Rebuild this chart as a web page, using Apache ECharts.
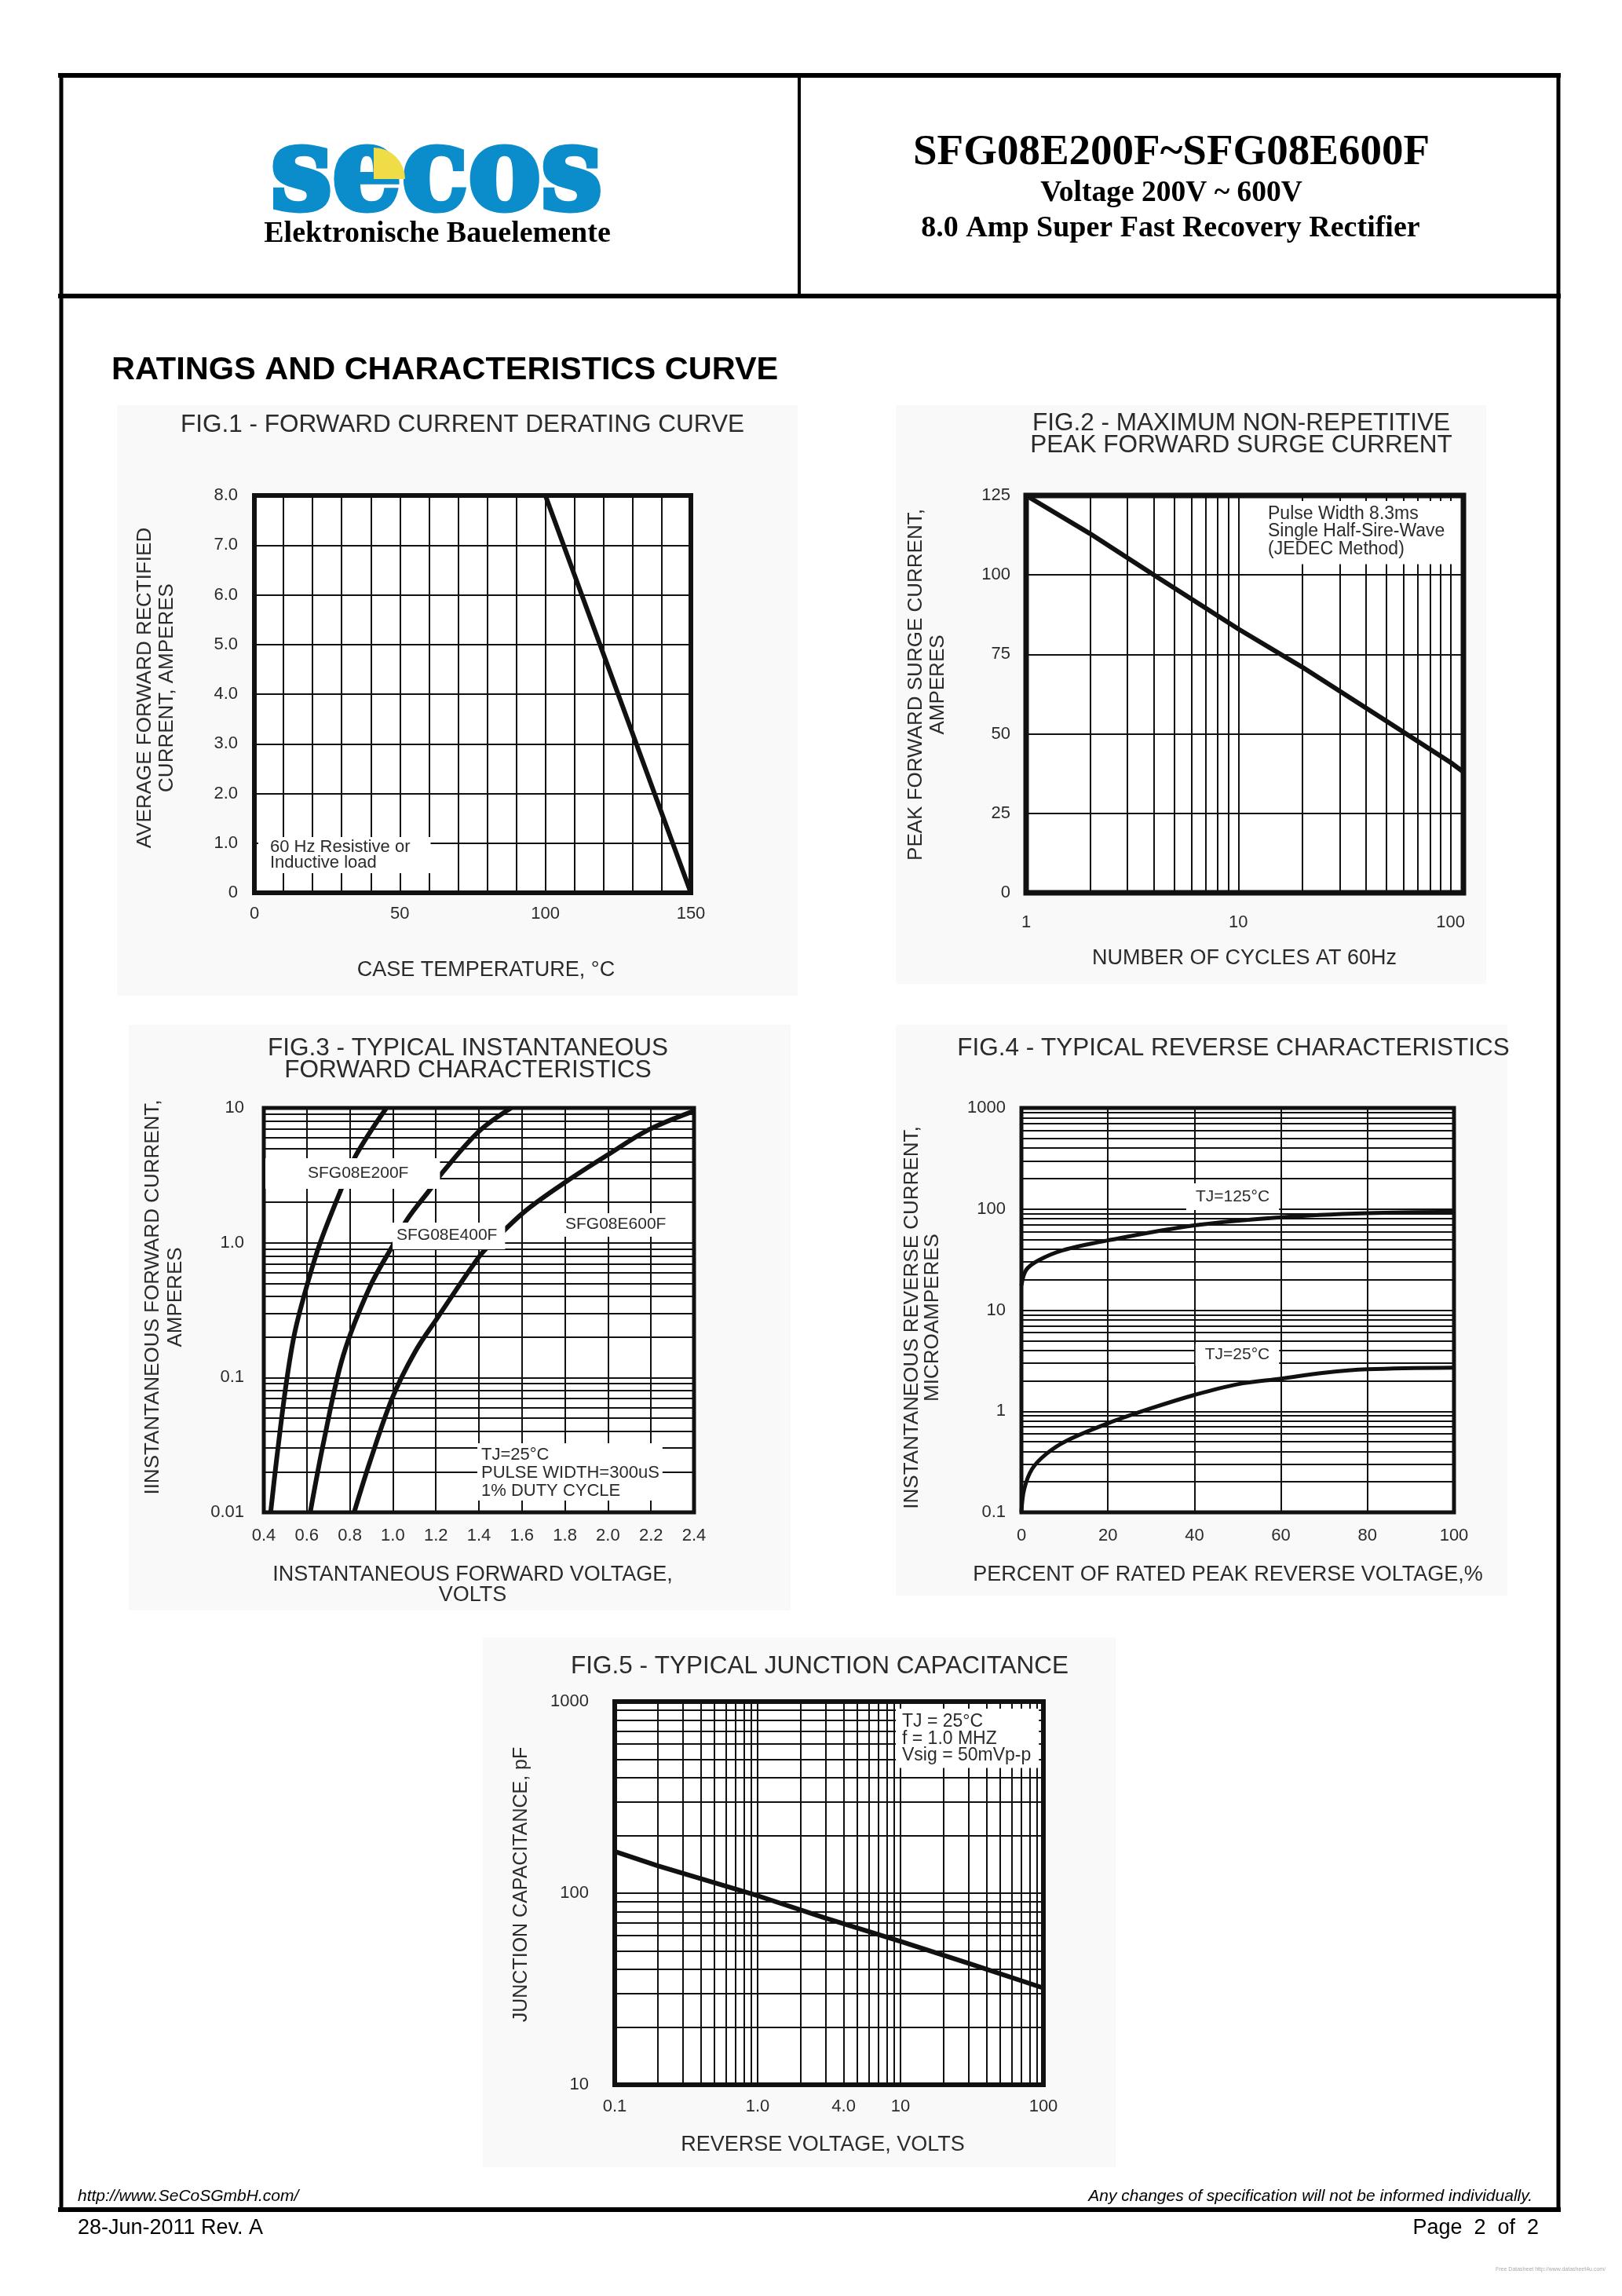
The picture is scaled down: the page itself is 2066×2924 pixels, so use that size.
<!DOCTYPE html>
<html>
<head>
<meta charset="utf-8">
<title>SFG08E200F~SFG08E600F</title>
<script src="https://cdn.jsdelivr.net/npm/echarts@6/dist/echarts.min.js"></script>
<style>
  html, body { margin: 0; padding: 0; background: #fff; }
  #page { width: 2066px; height: 2924px; }
</style>
</head>
<body>
<div id="page"></div>
<script>
// FIG.1 - forward current derating
var fig1Temp = [0, 100, 150];
var fig1Amps = [8, 8, 0];
var fig1XLabels = [0, 50, 100, 150];

// FIG.2 - peak forward surge current
var fig2Cycles = [1, 2, 4, 10, 20, 50, 100, 115];
var fig2Amps = [125, 113, 100, 83, 71, 54, 41, 38];
var fig2XLabels = [1, 10, 100];

// FIG.3 - forward characteristics (volts, amps)
var fig3V200 = [0.432, 0.46, 0.505, 0.545, 0.608, 0.664, 0.76, 0.83, 0.97];
var fig3I200 = [0.01, 0.025, 0.092, 0.22, 0.53, 1.02, 2.5, 4.5, 10];
var fig3V400 = [0.616, 0.681, 0.769, 0.893, 1.007, 1.068, 1.174, 1.227, 1.40, 1.55];
var fig3I400 = [0.01, 0.035, 0.145, 0.47, 1.0, 1.5, 2.5, 3.27, 6.7, 10];
var fig3V600 = [0.82, 0.893, 0.998, 1.103, 1.209, 1.40, 1.46, 1.614, 1.81, 2.0, 2.19, 2.4];
var fig3I600 = [0.01, 0.0236, 0.071, 0.155, 0.28, 0.785, 1.0, 1.71, 2.87, 4.5, 6.9, 9.5];
var fig3XLabels = [0.4, 0.6, 0.8, 1.0, 1.2, 1.4, 1.6, 1.8, 2.0, 2.2, 2.4];
var fig3YLabels = [0.01, 0.1, 1, 10];
var fig3YText = ['0.01', '0.1', '1.0', '10'];

// FIG.4 - reverse characteristics (percent, microamps)
var fig4Pct125 = [0, 1.1, 3.9, 9.5, 20, 40, 60, 80, 100];
var fig4Ua125 = [17.5, 25, 31, 39, 49, 69, 83, 91, 94];
var fig4Pct25 = [0, 0.65, 2.5, 5.8, 10.4, 20, 30, 40, 50, 60, 70, 80, 100];
var fig4Ua25 = [0.1, 0.17, 0.27, 0.38, 0.51, 0.76, 1.07, 1.45, 1.85, 2.1, 2.4, 2.6, 2.7];
var fig4YLabels = [0.1, 1, 10, 100, 1000];
var fig4YText = ['0.1', '1', '10', '100', '1000'];

// FIG.5 - junction capacitance (volts, pF)
var fig5Volts = [0.1, 0.2, 1, 3, 10, 30, 100];
var fig5Pf = [165, 139, 97, 74, 56, 43, 32];
var fig5XLabels = [0.1, 1, 4, 10, 100];
var fig5XText = ['0.1', '1.0', '4.0', '10', '100'];
var fig5YLabels = [10, 100, 1000];
var fig5YText = ['10', '100', '1000'];

var SANS = '"Liberation Sans", Arial, sans-serif';
var SERIF = '"Liberation Serif", "Times New Roman", serif';
var INK = '#111';
var TXT = '#2b2b2b';
var LOGO = '#0b8dcb';

// 1..9 x each decade, for the log grids
function decadeLines(lo, hi) {
  var out = [];
  for (var d = lo; d < hi; d *= 10) {
    for (var k = 1; k < 10; k++) out.push(+(k * d).toPrecision(3));
  }
  out.push(hi);
  return out;
}

function pick(values, texts) {
  return function (v) {
    for (var i = 0; i < values.length; i++) {
      if (Math.abs(v - values[i]) <= values[i] * 1e-6 + 1e-9) return texts ? texts[i] : String(values[i]);
    }
    return '';
  };
}

function labelStyle(margin, extra) {
  var s = {color: TXT, fontSize: 22, fontFamily: SANS, margin: margin};
  for (var k in extra) s[k] = extra[k];
  return s;
}

function valAxis(idx, min, max, interval, margin, labels, fmt) {
  var lab = labelStyle(margin, {formatter: fmt});
  if (labels) lab.customValues = labels;
  return {
    type: 'value', gridIndex: idx, min: min, max: max, interval: interval,
    axisLine: {show: false}, axisTick: {show: false},
    axisLabel: lab,
    splitLine: {show: true, lineStyle: {color: INK, width: 2}}
  };
}

function logAxis(idx, min, max, lines, margin, labels, fmt) {
  return {
    type: 'log', logBase: 10, gridIndex: idx, min: min, max: max,
    axisLine: {show: false},
    axisTick: {show: false, customValues: lines},
    axisLabel: labelStyle(margin, {customValues: labels, formatter: fmt}),
    splitLine: {show: true, lineStyle: {color: INK, width: 2}}
  };
}

function curve(idx, xs, ys, width, smooth) {
  return {
    type: 'line', xAxisIndex: idx, yAxisIndex: idx,
    data: xs.map(function (x, i) { return [x, ys[i]]; }),
    symbol: 'none', smooth: smooth || false, silent: true, z: 5,
    lineStyle: {color: INK, width: width}
  };
}

function txt(x, y, text, size, opts) {
  var el = {
    type: 'text', x: x, y: y, z: 60,
    style: {text: text, fontSize: size, fontFamily: SANS, fill: TXT, textAlign: 'center', textVerticalAlign: 'middle'}
  };
  for (var k in (opts || {})) {
    if (k === 'rotation' || k === 'z' || k === 'scaleX') el[k] = opts[k];
    else el.style[k] = opts[k];
  }
  return el;
}

function note(x, y, text, size, lh, pad, align) {
  return txt(x, y, text, size, {
    textAlign: align || 'left', textVerticalAlign: 'top', lineHeight: lh,
    backgroundColor: '#fff', padding: pad, z: 80
  });
}

function hline(x1, x2, y, w) {
  return {type: 'line', z: 70, shape: {x1: x1, y1: y, x2: x2, y2: y}, style: {stroke: '#000', lineWidth: w}};
}
function vline(x, y1, y2, w) {
  return {type: 'line', z: 70, shape: {x1: x, y1: y1, x2: x, y2: y2}, style: {stroke: '#000', lineWidth: w}};
}
function zone(x, y, w, h) {
  return {type: 'rect', z: -10, shape: {x: x, y: y, width: w, height: h}, style: {fill: '#f9f9f9'}};
}

var chart = echarts.init(document.getElementById('page'), null, {width: 2066, height: 2924});

var gridBase = {show: true, borderColor: INK, backgroundColor: '#fff', containLabel: false};
function grid(l, t, w, h, bw) {
  return Object.assign({}, gridBase, {left: l, top: t, width: w, height: h, borderWidth: bw});
}

var rot = Math.PI / 2;

chart.setOption({
  backgroundColor: '#fff',
  animation: false,
  grid: [
    grid(324, 631, 556, 506, 6),
    grid(1307, 631, 557, 506, 7),
    grid(336, 1411, 548, 515, 5),
    grid(1301, 1411, 551, 515, 5),
    grid(783, 2167, 546, 488, 6)
  ],
  xAxis: [
    valAxis(0, 0, 150, 10, 16, fig1XLabels, function (v) { return String(v); }),
    logAxis(1, 1, 115, decadeLines(1, 100), 27, fig2XLabels, pick(fig2XLabels)),
    valAxis(2, 0.4, 2.4, 0.2, 19, fig3XLabels, function (v) { return v.toFixed(1); }),
    valAxis(3, 0, 100, 20, 19, null, function (v) { return String(v); }),
    logAxis(4, 0.1, 100, decadeLines(0.1, 100), 17, fig5XLabels, pick(fig5XLabels, fig5XText))
  ],
  yAxis: [
    valAxis(0, 0, 8, 1, 21, null, function (v) { return v === 0 ? '0' : v.toFixed(1); }),
    valAxis(1, 0, 125, 25, 20, null, function (v) { return String(v); }),
    logAxis(2, 0.01, 10, decadeLines(0.01, 10), 25, fig3YLabels, pick(fig3YLabels, fig3YText)),
    logAxis(3, 0.1, 1000, decadeLines(0.1, 1000), 20, fig4YLabels, pick(fig4YLabels, fig4YText)),
    logAxis(4, 10, 1000, decadeLines(10, 1000), 33, fig5YLabels, pick(fig5YLabels, fig5YText))
  ],
  series: [
    curve(0, fig1Temp, fig1Amps, 6),
    curve(1, fig2Cycles, fig2Amps, 6),
    curve(2, fig3V200, fig3I200, 6, 0.35),
    curve(2, fig3V400, fig3I400, 6, 0.35),
    curve(2, fig3V600, fig3I600, 6, 0.35),
    curve(3, fig4Pct125, fig4Ua125, 5, 0.35),
    curve(3, fig4Pct25, fig4Ua25, 5, 0.35),
    curve(4, fig5Volts, fig5Pf, 6)
  ],
  graphic: {elements: [
    // faint scan background behind each figure
    zone(149, 516, 867, 752),
    zone(1141, 516, 752, 737),
    zone(164, 1305, 843, 746),
    zone(1141, 1305, 779, 727),
    zone(615, 2085, 806, 675),

    // page frame
    hline(74, 1988, 96, 6),
    hline(74, 1988, 377, 6),
    hline(74, 1988, 2814, 6),
    vline(78, 93, 2817, 5),
    vline(1985, 93, 2817, 5),
    vline(1018, 96, 377, 4),

    // header
    txt(556, 228, 'secos', 148, {fontFamily: '"DejaVu Serif"', fontWeight: 'bold', fill: LOGO,
      stroke: LOGO, lineWidth: 7, scaleX: 0.94, z: 20}),
    {type: 'sector', z: 21, shape: {cx: 476, cy: 228, r: 40, startAngle: -Math.PI / 2, endAngle: 0}, style: {fill: '#efdc46'}},
    txt(557, 298, 'Elektronische Bauelemente', 38, {fontFamily: SERIF, fontWeight: 'bold', fill: '#000'}),
    txt(1492, 195, 'SFG08E200F~SFG08E600F', 55, {fontFamily: SERIF, fontWeight: 'bold', fill: '#000'}),
    txt(1492, 246, 'Voltage 200V ~ 600V', 37.5, {fontFamily: SERIF, fontWeight: 'bold', fill: '#000'}),
    txt(1491, 291, '8.0 Amp Super Fast Recovery Rectifier', 38, {fontFamily: SERIF, fontWeight: 'bold', fill: '#000'}),
    txt(142, 472, 'RATINGS AND CHARACTERISTICS CURVE', 41.5, {textAlign: 'left', fontWeight: 'bold', fill: '#000'}),

    // FIG.1
    txt(589, 541, 'FIG.1 - FORWARD CURRENT DERATING CURVE', 31.5),
    txt(199, 876, 'AVERAGE FORWARD RECTIFIED\nCURRENT, AMPERES', 26, {rotation: rot, lineHeight: 28}),
    txt(619, 1236, 'CASE TEMPERATURE, °C', 27),
    note(329, 1066, '60 Hz Resistive or\nInductive load', 22, 20, [3, 26, 3, 15]),

    // FIG.2
    txt(1581, 553, 'FIG.2 - MAXIMUM NON-REPETITIVE\nPEAK FORWARD SURGE CURRENT', 31.5, {lineHeight: 28}),
    txt(1181, 872, 'PEAK FORWARD SURGE CURRENT,\nAMPERES', 26, {rotation: rot, lineHeight: 28}),
    txt(1585, 1221, 'NUMBER OF CYCLES AT 60Hz', 27),
    note(1611, 638, 'Pulse Width 8.3ms\nSingle Half-Sire-Wave\n(JEDEC Method)', 23, 22.5, [5, 12, 8, 4]),

    // FIG.3
    txt(596, 1349, 'FIG.3 - TYPICAL INSTANTANEOUS\nFORWARD CHARACTERISTICS', 31.5, {lineHeight: 28}),
    txt(209, 1652, 'IINSTANTANEOUS FORWARD CURRENT,\nAMPERES', 26, {rotation: rot, lineHeight: 29}),
    txt(602, 2019, 'INSTANTANEOUS FORWARD VOLTAGE,\nVOLTS', 27, {lineHeight: 26}),
    note(338, 1475, 'SFG08E200F', 21, 22, [8, 40, 9, 54]),
    note(500, 1557, 'SFG08E400F', 21, 22, [5, 10, 7, 5]),
    note(712, 1545, 'SFG08E600F', 21, 22, [3, 8, 5, 8]),
    note(608, 1838, 'TJ=25°C\nPULSE WIDTH=300uS\n1% DUTY CYCLE', 22, 23, [3, 4, 1, 5]),

    // FIG.4
    txt(1571, 1335, 'FIG.4 - TYPICAL REVERSE CHARACTERISTICS', 31.5),
    txt(1175, 1678, 'INSTANTANEOUS REVERSE CURRENT,\nMICROAMPERES', 26, {rotation: rot, lineHeight: 26}),
    txt(1564, 2006, 'PERCENT OF RATED PEAK REVERSE VOLTAGE,%', 27),
    note(1570, 1507, 'TJ=125°C', 21, 22, [6, 12, 6, 12], 'center'),
    note(1576, 1711, 'TJ=25°C', 21, 22, [3, 12, 3, 12], 'center'),

    // FIG.5
    txt(1044, 2122, 'FIG.5 - TYPICAL JUNCTION CAPACITANCE', 31.5),
    txt(664, 2400, 'JUNCTION CAPACITANCE, pF', 25, {rotation: rot}),
    txt(1048, 2732, 'REVERSE VOLTAGE, VOLTS', 27),
    note(1141, 2176, 'TJ = 25°C\nf = 1.0 MHZ\nVsig = 50mVp-p', 23, 21.5, [6, 10, 5, 8]),

    // footer
    txt(99, 2797, 'http://www.SeCoSGmbH.com/', 21, {textAlign: 'left', fontStyle: 'italic', fill: '#000'}),
    txt(1952, 2797, 'Any changes of specification will not be informed individually.', 21, {textAlign: 'right', fontStyle: 'italic', fill: '#000'}),
    txt(99, 2838, '28-Jun-2011 Rev. A', 27, {textAlign: 'left', fill: '#000'}),
    txt(1960, 2838, 'Page  2  of  2', 27, {textAlign: 'right', fill: '#000'}),
    txt(1905, 2890, 'Free Datasheet http://www.datasheet4u.com/', 7, {textAlign: 'left', fill: '#aaa'})
  ]}
});
</script>
</body>
</html>
